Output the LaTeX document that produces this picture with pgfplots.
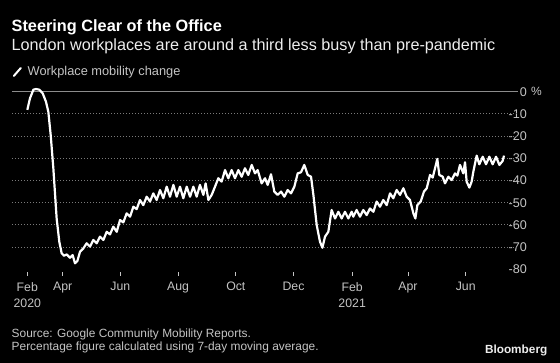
\documentclass[border=0pt]{standalone}
\usepackage{fontspec}
\setmainfont{Liberation Sans}
\usepackage{pgfplots}
\pgfplotsset{compat=1.18}
\definecolor{gridc}{HTML}{7A7A7A}
\definecolor{zeroc}{HTML}{8C8C8C}
\definecolor{lbl}{HTML}{C4C4C4}
\definecolor{sub}{HTML}{EDEDED}
\pgfplotstableread{
day val
53.6 -8.2
56.4 -3.0
60.0 0.9
62.8 1.2
66.3 0.9
69.8 -0.7
73.3 -4.5
75.8 -9.0
78.3 -19.5
81.1 -34.5
84.6 -57.1
87.4 -67.6
89.9 -72.8
92.4 -73.9
95.2 -73.3
98.7 -74.8
101.5 -73.6
104.0 -77.3
106.5 -76.3
109.3 -72.1
112.8 -70.6
116.3 -68.3
119.9 -69.8
123.4 -66.8
126.9 -68.3
130.4 -65.3
134.0 -66.8
137.5 -63.1
141.0 -64.3
144.5 -60.8
148.1 -63.1
151.6 -57.8
155.1 -58.9
158.6 -54.8
162.2 -56.3
165.7 -51.8
169.2 -52.9
172.7 -48.8
176.2 -51.1
179.8 -47.3
183.3 -49.5
186.8 -45.8
190.3 -48.8
193.9 -44.3
197.4 -48.0
200.9 -42.8
204.4 -47.3
208.0 -42.0
211.5 -47.3
215.0 -42.8
218.5 -48.0
222.1 -42.8
225.6 -47.3
229.1 -42.8
232.6 -47.3
236.1 -42.0
239.7 -46.5
242.1 -41.3
245.0 -48.8
248.5 -46.5
252.0 -42.8
255.5 -39.0
259.0 -40.5
262.6 -35.3
266.1 -39.0
269.6 -35.3
273.1 -39.0
276.7 -35.3
280.2 -38.3
283.7 -34.5
287.2 -37.5
290.8 -33.0
294.3 -36.8
297.1 -35.3
301.3 -41.3
304.9 -39.0
307.7 -42.0
311.2 -37.2
314.7 -45.0
318.2 -46.5
321.8 -45.0
325.3 -47.3
328.8 -44.3
332.3 -45.8
335.9 -42.8
339.4 -36.8
342.9 -36.3
346.4 -33.0
350.0 -37.5
353.5 -38.3
356.0 -46.5
359.5 -60.1
363.0 -67.6
365.5 -70.3
368.3 -65.3
371.8 -63.1
375.3 -53.3
378.9 -57.1
382.4 -54.1
385.9 -57.1
389.4 -54.1
393.0 -57.1
396.5 -54.1
398.2 -56.3
401.7 -53.3
405.3 -56.3
408.8 -53.3
412.3 -55.6
415.8 -52.6
419.4 -54.1
422.9 -49.5
426.4 -51.8
429.9 -48.8
433.5 -51.1
437.0 -45.8
440.5 -48.0
444.0 -44.3
447.6 -46.5
451.1 -43.5
454.6 -47.3
458.1 -48.8
461.7 -54.8
463.8 -57.1
465.9 -51.1
469.4 -49.5
472.9 -45.0
475.8 -43.5
479.3 -37.5
482.1 -38.7
484.6 -34.5
487.0 -30.3
489.1 -37.5
492.7 -38.3
495.1 -41.3
498.7 -38.3
502.2 -39.8
505.7 -36.8
508.2 -37.8
511.0 -33.0
514.5 -36.8
516.3 -31.8
518.0 -40.5
520.9 -43.2
523.3 -40.5
525.1 -36.0
528.6 -28.8
531.4 -32.7
535.0 -29.3
538.5 -32.7
542.0 -29.3
545.5 -32.7
549.1 -29.3
552.6 -33.0
556.1 -31.2
557.5 -28.8
}\mobility
\begin{document}
\begin{tikzpicture}[x=1pt,y=1pt]
\path[use as bounding box, fill=black] (0,0) rectangle (560,363);
\node[anchor=west, inner sep=0pt, text=white, font=\fontsize{16.3}{19}\selectfont\bfseries] at (11.5,335.2) {Steering Clear of the Office};
\node[anchor=west, inner sep=0pt, text=sub, font=\fontsize{16.2}{19}\selectfont] at (11.5,316.5) {London workplaces are around a third less busy than pre-pandemic};
\draw[white, line width=2pt, line cap=round] (13.8,287) -- (20.8,295);
\node[anchor=west, inner sep=0pt, text=lbl, font=\fontsize{12.8}{15}\selectfont] at (27.5,291) {Workplace mobility change};
\node[anchor=west, inner sep=0pt, text=lbl, font=\fontsize{11.9}{14}\selectfont] at (11.5,29) {Source: Google Community Mobility Reports.};
\node[anchor=west, inner sep=0pt, text=lbl, font=\fontsize{11.9}{14}\selectfont] at (11.5,15.7) {Percentage figure calculated using 7-day moving average.};
\node[anchor=east, inner sep=0pt, text=sub, font=\fontsize{11.8}{14}\selectfont\bfseries] at (547.5,12.5) {Bloomberg};
\node[anchor=west, inner sep=0pt, text=lbl, font=\fontsize{12}{14}\selectfont] at (531,271.3) {\%};
\begin{axis}[
  at={(12pt,271.3pt)}, anchor=north west,
  scale only axis, width=506pt, height=177.6pt,
  xmin=37.4, xmax=572.3, ymin=-80, ymax=0,
  clip=false,
  axis line style={draw=none},
  axis x line*=bottom, axis y line*=right,
  xtick={53.6,91,152,213,274,335,397,456,517},
  xticklabels={Feb\\2020,Apr,Jun,Aug,Oct,Dec,Feb\\2021,Apr,Jun},
  xtick align=outside,
  major tick length=4pt,
  x tick style={draw=lbl, line width=0.7pt, yshift=-2.4pt},
  xticklabel style={align=center, text=lbl, font=\fontsize{12.3}{16}\selectfont, yshift=-5.5pt},
  ytick={-80,-70,...,0},
  yticklabels={-80,-70,-60,-50,-40,-30,-20,-10,0},
  y tick style={draw=none},
  yticklabel pos=right,
  yticklabel style={anchor=east, inner sep=0pt, xshift=9pt, text=lbl, font=\fontsize{12.6}{15}\selectfont},
]
\pgfplotsinvokeforeach{-70,-60,-50,-40,-30,-20,-10}{
  \draw[gridc, line width=0.8pt, dash pattern=on 0.9pt off 2.1pt] (axis cs:37.4,#1) -- (axis cs:572.3,#1);
}
\draw[zeroc, line width=1pt] (axis cs:37.4,0) -- (axis cs:572.3,0);
\addplot[white, line width=2.2pt, line join=round] table[x=day, y=val] {\mobility};
\end{axis}
\end{tikzpicture}
\end{document}
